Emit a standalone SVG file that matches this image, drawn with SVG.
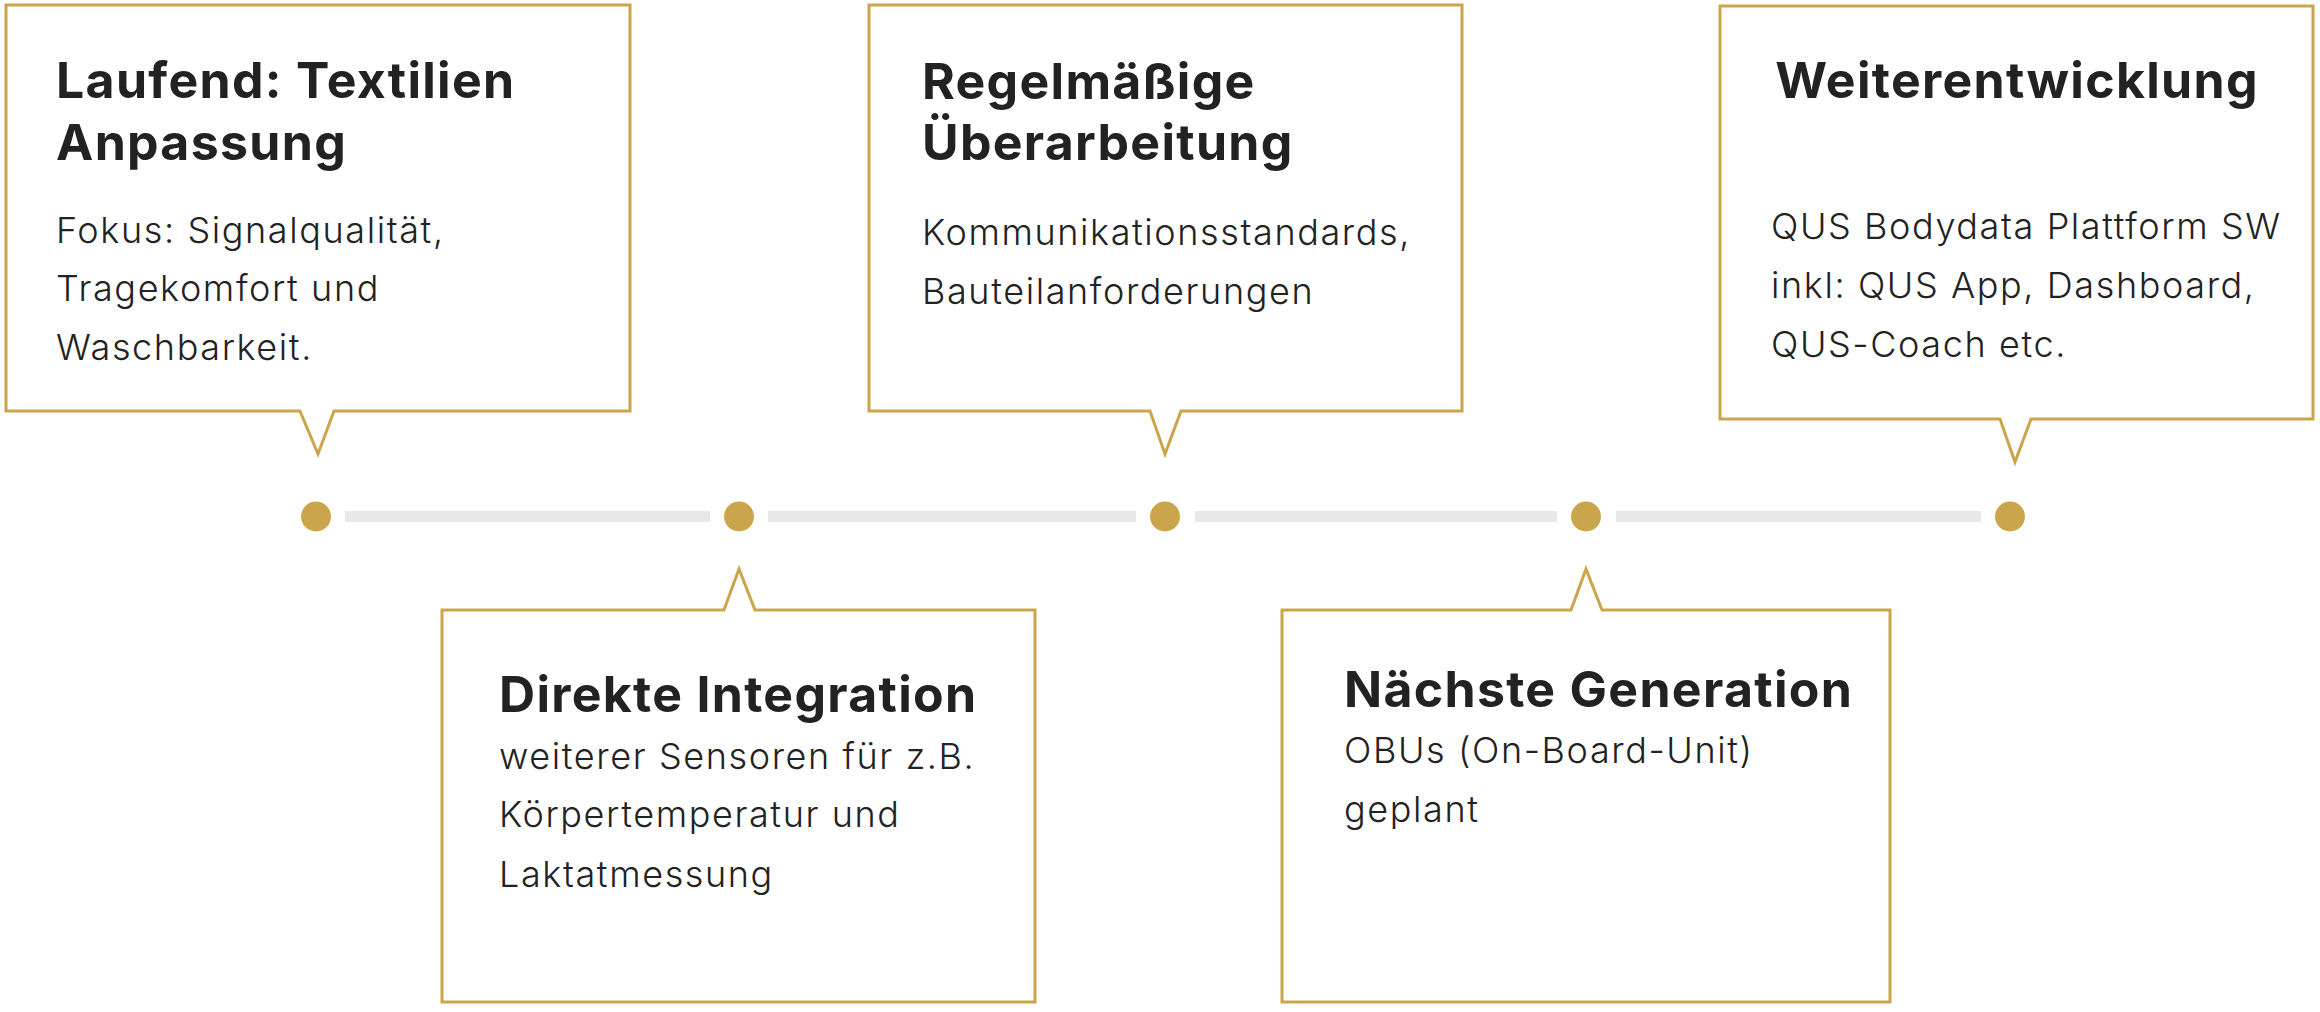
<svg xmlns="http://www.w3.org/2000/svg" width="2320" height="1012" viewBox="0 0 2320 1012">
<style>
.box{fill:#ffffff;stroke:#CBA54C;stroke-width:3;stroke-linejoin:miter}
.dot{fill:#CBA54C}
.seg{stroke:#E8E8E8;stroke-width:11;fill:none}
.t{font-family:Inter,"Noto Sans","Liberation Sans",sans-serif;font-weight:700;font-size:50px;letter-spacing:1.3px;fill:#222222}
.b{font-family:Inter,"Noto Sans","Liberation Sans",sans-serif;font-weight:300;font-size:36px;letter-spacing:1.6px;fill:#222222}
</style>
<rect width="2320" height="1012" fill="#ffffff"/>
<g id="connectors">
<line class="seg" x1="345" y1="516.5" x2="710" y2="516.5"/>
<line class="seg" x1="768" y1="516.5" x2="1136" y2="516.5"/>
<line class="seg" x1="1195" y1="516.5" x2="1557" y2="516.5"/>
<line class="seg" x1="1616" y1="516.5" x2="1981" y2="516.5"/>
</g>
<g id="dots">
<circle class="dot" cx="316" cy="516.5" r="15"/>
<circle class="dot" cx="739" cy="516.5" r="15"/>
<circle class="dot" cx="1165" cy="516.5" r="15"/>
<circle class="dot" cx="1586" cy="516.5" r="15"/>
<circle class="dot" cx="2010" cy="516.5" r="15"/>
</g>
<g id="node1">
<path class="box" d="M6,5 H630 V411 H334 L318,454 L300,411 H6 Z"/>
<text class="t" x="56" y="98">Laufend: Textilien</text>
<text class="t" x="56" y="160">Anpassung</text>
<text class="b" x="56" y="243">Fokus: Signalqualität,</text>
<text class="b" x="56" y="301">Tragekomfort und</text>
<text class="b" x="56" y="360">Waschbarkeit.</text>
</g>
<g id="node2">
<path class="box" d="M442,610 H724 L739,569 L755,610 H1035 V1002 H442 Z"/>
<text class="t" x="499" y="712">Direkte Integration</text>
<text class="b" x="499" y="769">weiterer Sensoren für z.B.</text>
<text class="b" x="499" y="827">Körpertemperatur und</text>
<text class="b" x="499" y="887">Laktatmessung</text>
</g>
<g id="node3">
<path class="box" d="M869,5 H1462 V411 H1181 L1165,454 L1150,411 H869 Z"/>
<text class="t" x="922" y="99">Regelmäßige</text>
<text class="t" x="922" y="160">Überarbeitung</text>
<text class="b" x="922" y="245">Kommunikationsstandards,</text>
<text class="b" x="922" y="304">Bauteilanforderungen</text>
</g>
<g id="node4">
<path class="box" d="M1282,610 H1571 L1586,569 L1602,610 H1890 V1002 H1282 Z"/>
<text class="t" x="1344" y="707">Nächste Generation</text>
<text class="b" x="1344" y="763">OBUs (On-Board-Unit)</text>
<text class="b" x="1344" y="822">geplant</text>
</g>
<g id="node5">
<path class="box" d="M1720,6 H2313 V419 H2031 L2015,462 L2000,419 H1720 Z"/>
<text class="t" x="2017" y="98" text-anchor="middle">Weiterentwicklung</text>
<text class="b" x="1771" y="239">QUS Bodydata Plattform SW</text>
<text class="b" x="1771" y="298">inkl: QUS App, Dashboard,</text>
<text class="b" x="1771" y="357">QUS-Coach etc.</text>
</g>
</svg>
